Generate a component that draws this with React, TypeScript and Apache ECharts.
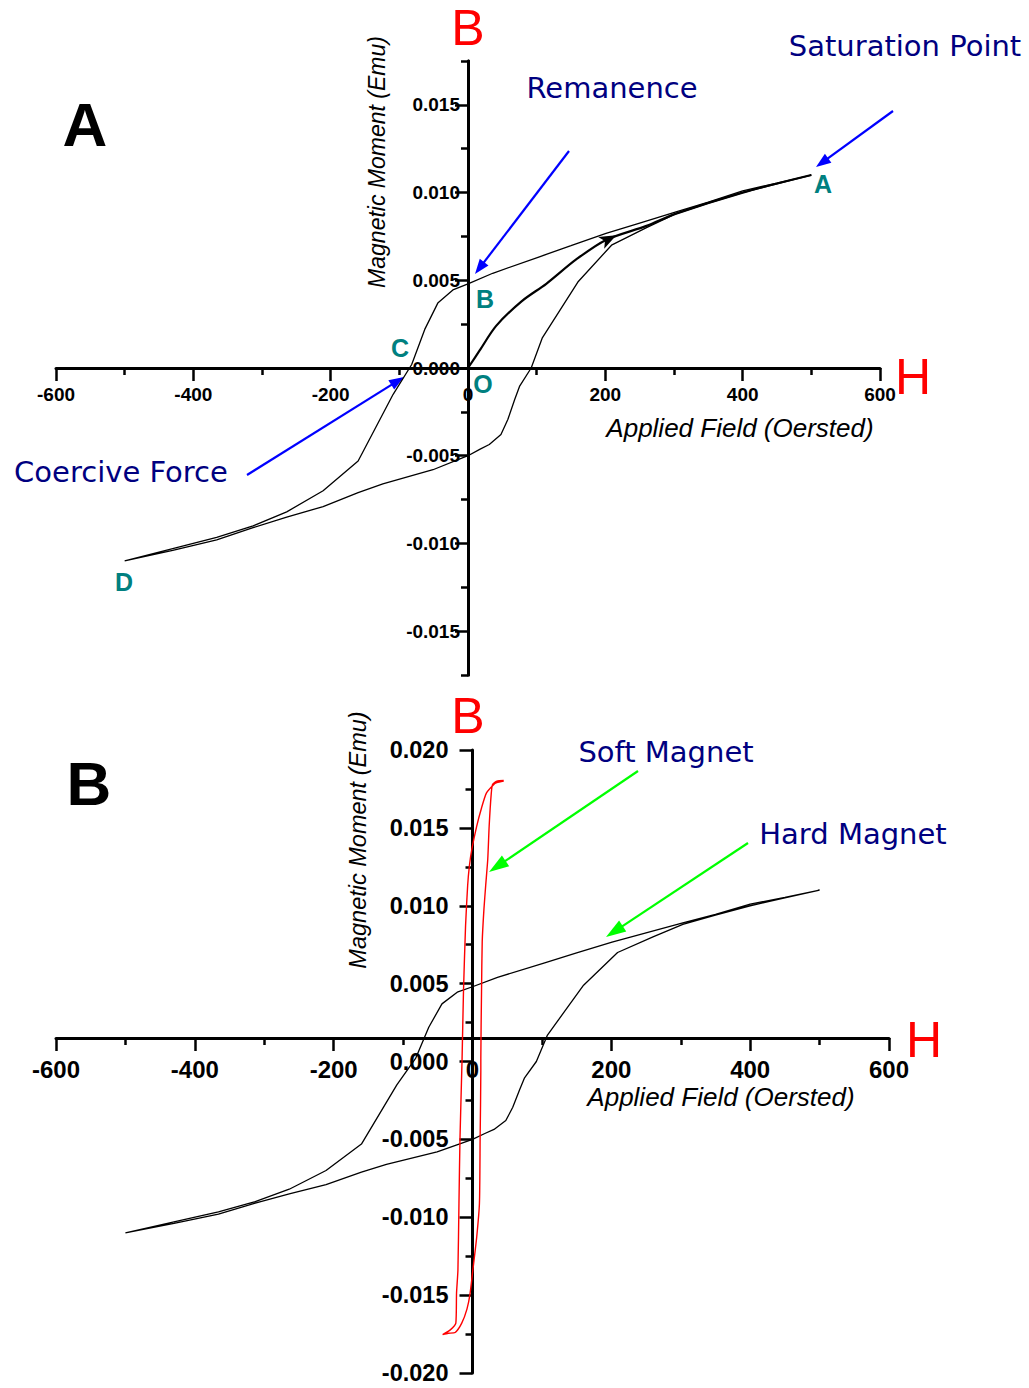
import React, { useEffect, useRef } from 'react';
import * as echarts from 'echarts';

// Hard magnet hysteresis loop (A -> B -> C -> D -> back to A)
const hardLoopH = [500, 450, 400, 350, 303, 250, 201, 150, 104, 36, 0, -22, -44, -63, -82, -109, -160, -211, -264, -313, -366, -430, -500,
  -430, -366, -313, -264, -211, -160, -124, -51, 0, 17, 31, 48, 58, 68, 75, 92, 108, 160, 209, 260, 303, 350, 400, 450, 500];
const hardLoopM = [0.0110, 0.01054, 0.0101, 0.00945, 0.0089, 0.00826, 0.00767, 0.00697, 0.00634, 0.0054, 0.0048, 0.00445, 0.0037, 0.0022, 0.0002, -0.0015, -0.0053, -0.0070, -0.0082, -0.0090, -0.00966, -0.0103, -0.0110,
  -0.0104, -0.0098, -0.0091, -0.0085, -0.0079, -0.0071, -0.0066, -0.0058, -0.0050, -0.00464, -0.00436, -0.00379, -0.00294, -0.0018, -0.00105, 0, 0.0017, 0.0049, 0.0070, 0.0080, 0.0088, 0.0094, 0.0100, 0.0105, 0.0110];

// Initial magnetization curve O -> A
const initH = [0, 17, 41, 78, 114, 158, 201, 260, 303, 400, 500];
const initM = [0, 0.001, 0.0024, 0.0038, 0.0048, 0.0062, 0.0073, 0.0081, 0.0088, 0.0100, 0.0110];
const initArrowAt = [216, 0.00757];

// Soft magnet loop
const softH = [45, 35, 30, 20, 13, 6, -1, -4.5, -7, -10, -13, -15, -18, -19.5, -21, -23, -24, -32, -43,
  -35, -25, -15.5, -8, -3.5, 1, 6, 10, 11, 12, 12, 13, 14, 16.5, 19, 22, 24, 27, 29, 35, 45];
const softM = [0.0180, 0.0179, 0.01776, 0.01723, 0.01628, 0.0151, 0.01362, 0.01255, 0.01128, 0.00872, 0.00448, 0.0002, -0.0049, -0.0091, -0.0134, -0.01487, -0.0168, -0.01723, -0.01753,
  -0.01745, -0.0174, -0.0168, -0.0159, -0.0149, -0.0132, -0.0113, -0.0091, -0.0049, -0.0006, 0.0002, 0.0045, 0.0077, 0.0098, 0.0113, 0.013, 0.0151, 0.0172, 0.0178, 0.0180, 0.01804];

// Tick values
const topYMajor = [-0.015, -0.01, -0.005, 0, 0.005, 0.01, 0.015];
const topYMinor = [-0.0175, -0.0125, -0.0075, -0.0025, 0.0025, 0.0075, 0.0125, 0.0175];

const AR = '"Liberation Sans", Arial, Helvetica, sans-serif';
const DV = '"DejaVu Sans", Verdana, sans-serif';

// grid geometry (pixels)
const G1 = { left: 56, top: 61, width: 824, height: 614 };
const G2 = { left: 56, top: 750, width: 833, height: 623 };
// where the crossing axes sit inside each grid (pixels from grid edge)
const G1_Y_AXIS_OFFSET = -412;   // y axis at H = 0
const G1_X_AXIS_OFFSET = -307;   // x axis at M = 0
const G2_Y_AXIS_OFFSET = -416.5; // y axis at H = 0
const G2_X_AXIS_OFFSET = -335;   // x axis drawn a little above M = 0, as in the original

function zip(a: number[], b: number[]) {
  return a.map((v, i) => [v, b[i]]);
}

function arrow(x1: number, y1: number, x2: number, y2: number, color: string, lw: number, hl: number, hw: number) {
  const dx = x2 - x1, dy = y2 - y1;
  const L = Math.sqrt(dx * dx + dy * dy);
  const ux = dx / L, uy = dy / L;
  const bx = x2 - ux * hl, by = y2 - uy * hl;
  const nx = -uy, ny = ux;
  return [
    { type: 'line', shape: { x1, y1, x2: bx + ux * 2, y2: by + uy * 2 }, style: { stroke: color, lineWidth: lw } },
    { type: 'polygon', shape: { points: [[x2, y2], [bx + nx * hw / 2, by + ny * hw / 2], [bx - nx * hw / 2, by - ny * hw / 2]] }, style: { fill: color } },
  ];
}

function txt(text: string, x: number, y: number, size: number, fill: string, family: string, weight = 'normal', italic = false, rotation = 0) {
  return {
    type: 'text', x, y, rotation,
    style: { text, fontSize: size, fontFamily: family, fontWeight: weight, fontStyle: italic ? 'italic' : 'normal', fill, align: 'center', verticalAlign: 'middle' },
  };
}

const axisLineStyle = { color: '#000', width: 3 };
const tickStyle = { color: '#000', width: 2.5 };
const fmt = (v: number) => (Math.abs(v) < 1e-12 ? '0.000' : v.toFixed(3));

export default function App() {
  const ref = useRef<HTMLDivElement>(null);
  useEffect(() => {
    if (!ref.current) return;
    const chart = echarts.init(ref.current, undefined, { renderer: 'svg' });
    const option: any = {
      animation: false,
      backgroundColor: '#fff',
      grid: [
        { ...G1, containLabel: false, outerBoundsMode: 'none' },
        { ...G2, containLabel: false, outerBoundsMode: 'none' },
      ],
      xAxis: [
        {
          gridIndex: 0, type: 'value', min: -600, max: 600, interval: 200, position: 'bottom', offset: G1_X_AXIS_OFFSET,
          axisLine: { onZero: false, lineStyle: axisLineStyle },
          axisTick: { length: 13, lineStyle: tickStyle },
          minorTick: { show: true, splitNumber: 2, length: 7, lineStyle: tickStyle },
          splitLine: { show: false }, minorSplitLine: { show: false },
          axisLabel: { fontSize: 19, fontWeight: 'bold', fontFamily: AR, color: '#000', margin: 17 },
        },
        {
          gridIndex: 1, type: 'value', min: -600, max: 600, interval: 200, position: 'bottom', offset: G2_X_AXIS_OFFSET,
          axisLine: { onZero: false, lineStyle: axisLineStyle },
          axisTick: { length: 13, lineStyle: tickStyle },
          minorTick: { show: true, splitNumber: 2, length: 7, lineStyle: tickStyle },
          splitLine: { show: false }, minorSplitLine: { show: false },
          axisLabel: { fontSize: 24, fontWeight: 'bold', fontFamily: AR, color: '#000', margin: 19 },
        },
      ],
      yAxis: [
        {
          gridIndex: 0, type: 'value', min: -0.0175, max: 0.0175, position: 'left', offset: G1_Y_AXIS_OFFSET,
          axisLine: { onZero: false, lineStyle: axisLineStyle },
          axisTick: { length: 13, lineStyle: tickStyle, customValues: topYMajor },
          splitLine: { show: false },
          axisLabel: { customValues: topYMajor, formatter: fmt, fontSize: 19, fontWeight: 'bold', fontFamily: AR, color: '#000', margin: 8 },
        },
        {
          gridIndex: 0, type: 'value', min: -0.0175, max: 0.0175, position: 'left', offset: G1_Y_AXIS_OFFSET,
          axisLine: { onZero: false, lineStyle: axisLineStyle },
          axisTick: { length: 7, lineStyle: tickStyle, customValues: topYMinor },
          splitLine: { show: false },
          axisLabel: { show: false },
        },
        {
          gridIndex: 1, type: 'value', min: -0.02, max: 0.02, interval: 0.005, position: 'left', offset: G2_Y_AXIS_OFFSET,
          axisLine: { onZero: false, lineStyle: axisLineStyle },
          axisTick: { length: 13, lineStyle: tickStyle },
          minorTick: { show: true, splitNumber: 2, length: 7, lineStyle: tickStyle },
          splitLine: { show: false }, minorSplitLine: { show: false },
          axisLabel: { formatter: fmt, fontSize: 23.5, fontWeight: 'bold', fontFamily: AR, color: '#000', margin: 24 },
        },
      ],
      series: [
        {
          type: 'line', xAxisIndex: 0, yAxisIndex: 0, data: zip(hardLoopH, hardLoopM), symbol: 'none',
          lineStyle: { color: '#000', width: 1.3 }, smooth: false,
        },
        {
          type: 'line', xAxisIndex: 0, yAxisIndex: 0, data: zip(initH, initM), symbol: 'none',
          lineStyle: { color: '#000', width: 2.2 }, smooth: 0.3,
          markPoint: {
            symbol: 'arrow', symbolSize: [10, 17], symbolRotate: -63, silent: true,
            itemStyle: { color: '#000' }, label: { show: false },
            data: [{ coord: initArrowAt }],
          },
        },
        {
          type: 'line', xAxisIndex: 1, yAxisIndex: 2, data: zip(hardLoopH, hardLoopM), symbol: 'none',
          lineStyle: { color: '#000', width: 1.3 }, smooth: false,
        },
        {
          type: 'line', xAxisIndex: 1, yAxisIndex: 2, data: zip(softH, softM), symbol: 'none',
          lineStyle: { color: '#ff0000', width: 1.4 }, smooth: 0.2,
        },
      ],
      graphic: [
        txt('A', 85, 124, 62, '#000', AR, 'bold'),
        txt('B', 89, 783, 62, '#000', AR, 'bold'),
        txt('B', 468, 28, 50, '#ff0000', AR),
        txt('H', 913, 377, 50, '#ff0000', AR),
        txt('B', 468, 716, 50, '#ff0000', AR),
        txt('H', 924, 1040, 50, '#ff0000', AR),
        txt('Magnetic Moment (Emu)', 377, 162, 23, '#000', AR, 'normal', true, Math.PI / 2),
        txt('Applied Field (Oersted)', 740, 428, 26, '#000', AR, 'normal', true),
        txt('Magnetic Moment (Emu)', 358, 840, 23.5, '#000', AR, 'normal', true, Math.PI / 2),
        txt('Applied Field (Oersted)', 721, 1097, 26, '#000', AR, 'normal', true),
        txt('Saturation Point', 905, 46, 29, '#000080', DV),
        txt('Remanence', 612, 88, 29, '#000080', DV),
        txt('Coercive Force', 121, 472, 29, '#000080', DV),
        txt('Soft Magnet', 666, 752, 29, '#000080', DV),
        txt('Hard Magnet', 853, 834, 29, '#000080', DV),
        txt('A', 823, 184, 25, '#008080', AR, 'bold'),
        txt('B', 485, 299, 25, '#008080', AR, 'bold'),
        txt('C', 400, 348, 25, '#008080', AR, 'bold'),
        txt('O', 483, 384, 25, '#008080', AR, 'bold'),
        txt('D', 124, 582, 25, '#008080', AR, 'bold'),
        ...arrow(893, 111, 816, 167, '#0000ff', 2.2, 15, 11),
        ...arrow(569, 151, 475, 274, '#0000ff', 2.2, 15, 11),
        ...arrow(247, 475, 404, 377, '#0000ff', 2.2, 15, 11),
        ...arrow(638, 771, 489, 872, '#00ff00', 2.2, 20, 13),
        ...arrow(748, 843, 606, 937, '#00ff00', 2.2, 20, 13),
      ],
    };
    chart.setOption(option);
    return () => chart.dispose();
  }, []);
  return <div ref={ref} style={{ position: 'absolute', left: 0, top: 0, width: 1029, height: 1388, background: '#fff' }} />;
}
